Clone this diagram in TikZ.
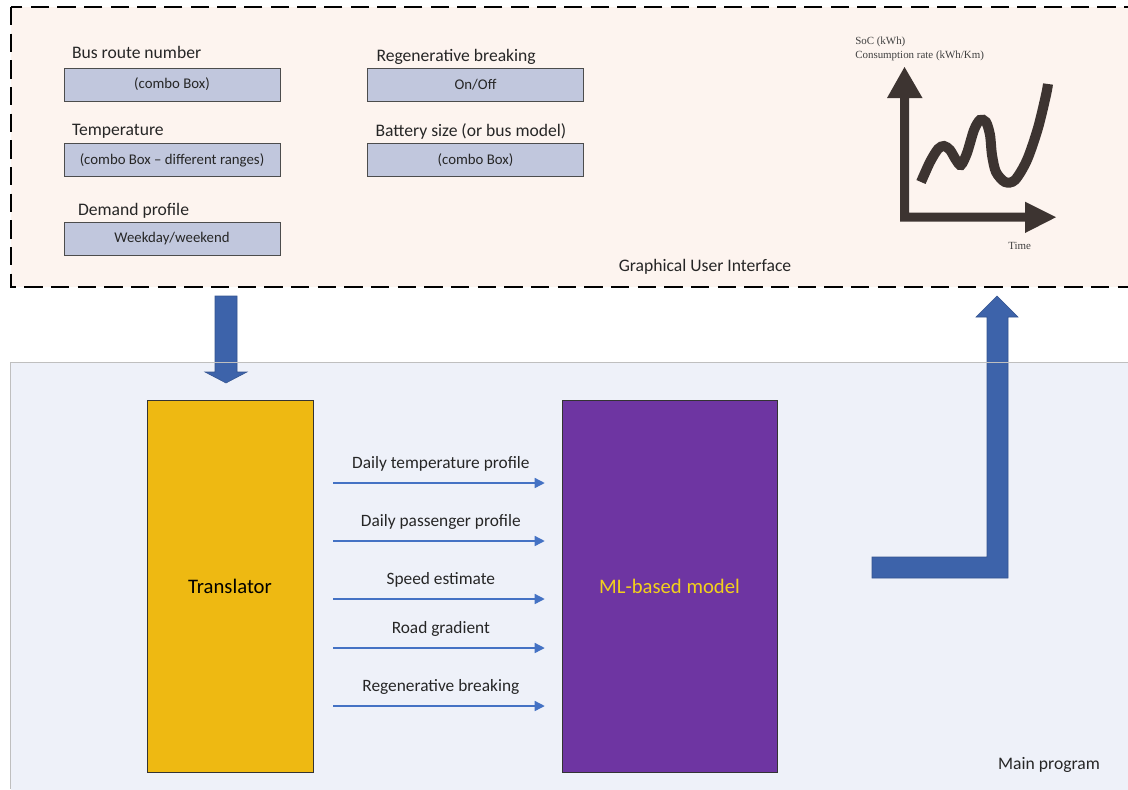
\documentclass[tikz,border=0pt]{standalone}
\usepackage{fontspec}
\setmainfont{Carlito}
\newfontfamily\chartfont{Liberation Serif}
\usetikzlibrary{positioning,arrows.meta}

\definecolor{guibg}{HTML}{FDF4EF}
\definecolor{mainbg}{HTML}{EEF1F9}
\definecolor{fieldfill}{HTML}{C1C7DD}
\definecolor{transfill}{HTML}{EEB912}
\definecolor{mlfill}{HTML}{6E35A2}
\definecolor{mltext}{HTML}{F2D01C}
\definecolor{blockblue}{HTML}{3D63AA}
\definecolor{flowblue}{HTML}{4472C4}
\definecolor{chartbrown}{HTML}{3D3431}

\begin{document}
\begin{tikzpicture}[x=0.75pt,y=-0.75pt,>={Triangle[length=7.5pt,width=7.5pt]},
  field/.style={rectangle,draw=black!70,fill=fieldfill,minimum width=162pt,minimum height=24.75pt,inner sep=0pt,text=black!85,font=\fontsize{11.1}{13}\selectfont},
  field label/.style={anchor=west,inner sep=0pt,text=black!85,font=\fontsize{13.2}{16}\selectfont},
  block/.style={rectangle,draw=black!80,minimum height=279pt,inner sep=0pt,font=\fontsize{15.5}{18}\selectfont},
  flow/.style={->,draw=flowblue,line width=1pt,shorten <=15pt,shorten >=12.75pt},
  flow label/.style={anchor=base,xshift=2.5pt,yshift=11pt,inner sep=0pt,text=black!85,font=\fontsize{13}{16}\selectfont},
  plain label/.style={text=black!85,font=\fontsize{13.2}{16}\selectfont},
  block arrow/.style={fill=blockblue,draw=blockblue!85!black,line width=0.4pt},
  chart label/.style={anchor=west,inner sep=0pt,text=black!75,font=\chartfont\fontsize{8.2}{10}\selectfont}]
  \useasboundingbox (0,0) rectangle (1128,789);
  \begin{scope}
    \clip (0,0) rectangle (1128,789);
    \draw[fill=guibg,line width=2pt,dash pattern=on 13.75pt off 6.25pt] (11,7) rectangle (1150,287);
    \fill[mainbg] (10.5,362) rectangle (1150,800);
  \end{scope}

  % big arrows
  \path[block arrow] (215,296) -- (237,296) -- (237,372) -- (247,372) -- (226,383) -- (205,372) -- (215,372) -- cycle;
  \path[block arrow] (872,557) -- (987,557) -- (987,317) -- (976,317) -- (997,296) -- (1018,317) -- (1008,317) -- (1008,578) -- (872,578) -- cycle;
  \draw[black!25] (1128,362) -- (10.5,362) -- (10.5,789);

  \node[field]                      (route)   at (172,84.5) {(combo Box)};
  \node[field,below=31.5pt of route] (temp)   {(combo Box \textendash\ different ranges)};
  \node[field,below=33.75pt of temp] (demand) {Weekday/weekend};
  \node[field,right=65.25pt of route] (regen) {On/Off};
  \node[field,below=31.5pt of regen] (battery) {(combo Box)};

  \node[field label] (route label)   at ([shift={(8,-15)}]route.north west)   {Bus route number};
  \node[field label] (temp label)    at ([shift={(8,-12)}]temp.north west)    {Temperature};
  \node[field label] (demand label)  at ([shift={(14,-11)}]demand.north west) {Demand profile};
  \node[field label] (regen label)   at ([shift={(9,-11)}]regen.north west)   {Regenerative breaking};
  \node[field label] (battery label) at ([shift={(8,-12)}]battery.north west) {Battery size (or bus model)};
  \node[plain label] (gui label) at (705,267) {Graphical User Interface};

  % chart
  \fill[chartbrown] (900,98) -- (887,98) -- (904.5,67) -- (922.5,98) -- (909,98) -- (909,212.7) -- (1025,212.7)
    -- (1025,201.7) -- (1056,217.2) -- (1025,233) -- (1025,221.7) -- (900,221.7) -- cycle;
  \draw[chartbrown,line width=7.5pt] plot[smooth,tension=0.5] coordinates {(921,182) (930,162) (938,149) (944,146) (950,150) (956,160) (961,165) (967,153) (974,130) (980,120) (986,122) (990,135) (992,155) (996,172) (1005,182) (1015,180) (1027,160) (1038,128) (1046,95) (1048,84)};
  \node[chart label] (soc label)  at (855,42) {SoC (kWh)};
  \node[chart label] (rate label) at (855,56) {Consumption rate (kWh/Km)};
  \node[chart label] (time label) at (1008,246) {Time};

  \node[block,fill=transfill,minimum width=124.5pt] (trans) at (230,586) {Translator};
  \node[block,fill=mlfill,text=mltext,minimum width=161.25pt] (ml) at (669.5,586) {ML-based model};
  \foreach \y/\txt in {483/Daily temperature profile,541/Daily passenger profile,599/Speed estimate,648/Road gradient,706/Regenerative breaking}
    \draw[flow] (trans.east |- 0,\y) -- node[flow label] {\txt} (ml.west |- 0,\y);
  \node[plain label] (main label) at (1049,765) {Main program};
\end{tikzpicture}
\end{document}
